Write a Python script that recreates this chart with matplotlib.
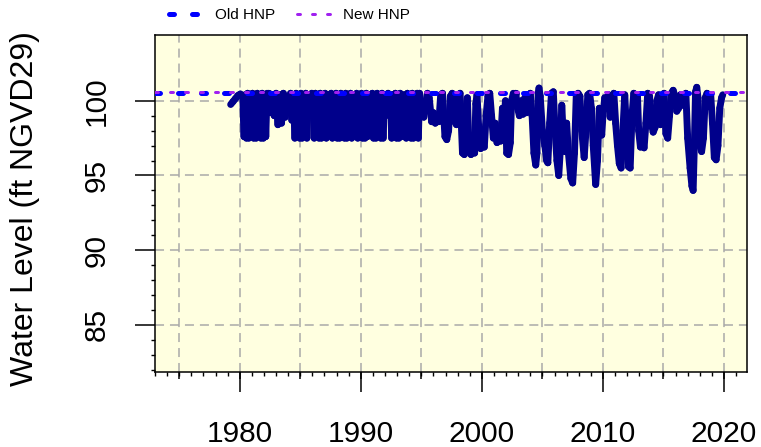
import numpy as np
import matplotlib
matplotlib.use("Agg")
import matplotlib.pyplot as plt
from matplotlib.collections import LineCollection

plt.rcParams['font.family'] = ['Liberation Sans', 'DejaVu Sans']

# stage record (decimal year, water level in ft NGVD29)
years_80s = [1979.25, 1979.45, 1979.65, 1979.85, 1980.05, 1980.25,
             1980.35, 1980.45, 1980.55, 1980.65, 1980.75, 1980.85, 1980.95, 1981.05, 1981.15, 1981.25,
             1981.35, 1981.45, 1981.55, 1981.65, 1981.75, 1981.85, 1981.95, 1982.05, 1982.15, 1982.25,
             1982.4, 1982.55, 1982.7, 1982.85, 1983.0, 1983.15, 1983.3, 1983.45, 1983.6, 1983.75,
             1983.9, 1984.05, 1984.2, 1984.3, 1984.45,
             1984.55, 1984.65, 1984.75, 1984.85, 1984.95, 1985.05, 1985.15, 1985.25, 1985.35, 1985.45,
             1985.55, 1985.65, 1985.8, 1985.95, 1986.05,
             1986.15, 1986.25, 1986.35, 1986.45, 1986.55, 1986.65, 1986.75, 1986.85, 1986.95, 1987.05,
             1987.15, 1987.25, 1987.4, 1987.55, 1987.65, 1987.75, 1987.85, 1987.95, 1988.05, 1988.15,
             1988.25, 1988.35, 1988.45, 1988.55, 1988.65, 1988.75, 1988.85, 1988.95, 1989.05, 1989.15,
             1989.25, 1989.35, 1989.5, 1989.65]
level_80s = [99.75, 99.95, 100.15, 100.35, 100.45, 100.3,
             97.6, 100.4, 97.5, 100.5, 97.5, 100.2, 97.6, 100.5, 97.5, 100.4,
             97.5, 100.5, 97.6, 100.3, 97.5, 100.5, 97.5, 100.4, 97.6, 100.5,
             100.5, 99.2, 100.3, 99.0, 100.5, 98.4, 100.4, 98.5, 100.5, 98.9,
             100.3, 99.2, 100.5, 98.7, 100.4,
             97.5, 100.5, 97.6, 100.4, 97.5, 100.5, 97.5, 100.3, 97.6, 100.5,
             97.5, 100.4, 100.0, 100.5, 99.8,
             97.5, 100.5, 97.6, 100.4, 97.5, 100.5, 97.5, 100.3, 97.6, 100.5,
             97.5, 100.4, 99.2, 100.5, 97.5, 100.4, 97.6, 100.5, 97.5, 100.3,
             97.5, 100.5, 97.6, 100.4, 97.5, 100.5, 97.5, 100.3, 97.6, 100.5,
             97.5, 100.4, 99.0, 100.5]

years_90s = [1989.75, 1989.85, 1989.95, 1990.05, 1990.15, 1990.25, 1990.35, 1990.45, 1990.55, 1990.65,
             1990.8, 1990.95, 1991.05, 1991.15, 1991.25, 1991.35, 1991.45, 1991.55, 1991.65, 1991.75,
             1991.85, 1991.95, 1992.1, 1992.25, 1992.35, 1992.45,
             1992.55, 1992.65, 1992.75, 1992.85, 1992.95, 1993.05, 1993.15, 1993.25, 1993.35, 1993.45,
             1993.55, 1993.65,
             1993.75, 1993.85, 1993.95, 1994.05, 1994.15, 1994.25, 1994.35, 1994.45, 1994.55, 1994.65,
             1994.75, 1994.85,
             1995.05, 1995.2, 1995.35, 1995.5, 1995.65, 1995.85, 1996.0, 1996.15, 1996.3, 1996.45,
             1996.6, 1996.75, 1996.95, 1997.1, 1997.25, 1997.4, 1997.55, 1997.75, 1997.9, 1998.05,
             1998.2, 1998.4, 1998.55, 1998.7, 1998.8, 1998.95, 1999.1, 1999.25, 1999.4, 1999.5,
             1999.6, 1999.75, 1999.9]
level_90s = [97.5, 100.4, 97.6, 100.5, 97.5, 100.3, 97.5, 100.5, 97.6, 100.4,
             98.8, 100.5, 97.5, 100.4, 97.5, 100.5, 97.6, 100.3, 97.5, 100.5,
             97.5, 100.4, 99.3, 100.5, 99.0, 100.4,
             97.5, 100.4, 97.6, 100.5, 97.5, 100.3, 97.5, 100.5, 97.6, 100.4,
             99.5, 100.4,
             97.5, 100.5, 97.6, 100.3, 97.5, 100.5, 97.5, 100.4, 97.6, 100.5,
             97.5, 100.5,
             99.6, 98.9, 99.5, 100.5, 100.2, 98.6, 99.2, 98.5, 99.0, 98.6,
             100.4, 100.5, 97.6, 97.4, 98.0, 100.3, 100.5, 98.6, 98.4, 100.3,
             100.5, 96.5, 96.4, 99.5, 100.2, 96.6, 96.4, 97.0, 96.5, 99.8,
             100.4, 98.0, 96.8]

years_00s = [2000.05, 2000.2, 2000.35, 2000.5, 2000.65, 2000.8, 2000.95, 2001.1, 2001.25, 2001.4,
             2001.55, 2001.7, 2001.8, 2001.95, 2002.05, 2002.2, 2002.35, 2002.45, 2002.6, 2002.8,
             2002.95, 2003.1, 2003.25, 2003.4, 2003.55, 2003.7, 2003.85, 2004.0, 2004.15, 2004.3,
             2004.45, 2004.55, 2004.65, 2004.72, 2004.82, 2005.0, 2005.2, 2005.35, 2005.45, 2005.6,
             2005.75, 2005.9, 2006.05, 2006.2, 2006.35, 2006.5, 2006.6, 2006.7, 2006.85, 2007.0,
             2007.15, 2007.35, 2007.5, 2007.65, 2007.8, 2007.95, 2008.1, 2008.25, 2008.45, 2008.6,
             2008.75, 2008.9, 2009.05, 2009.2, 2009.4, 2009.55, 2009.7, 2009.8, 2009.9]
level_00s = [97.5, 96.9, 99.0, 100.3, 100.5, 99.0, 97.5, 98.5, 97.2, 98.0,
             97.3, 99.5, 98.4, 100.0, 96.5, 96.4, 97.2, 100.0, 100.5, 100.5,
             99.5, 99.0, 100.0, 99.1, 100.2, 99.2, 100.3, 100.5, 99.0, 96.5,
             95.7, 96.5, 100.5, 100.85, 100.3, 98.0, 97.0, 96.0, 95.85, 98.5,
             100.5, 100.6, 98.0, 96.0, 95.0, 97.0, 99.7, 98.0, 96.6, 98.5,
             96.5, 94.8, 94.5, 96.5, 100.4, 100.5, 100.3, 98.0, 96.2, 98.0,
             100.4, 100.5, 99.5, 97.0, 94.4, 96.0, 99.5, 98.5, 97.7]

years_10s = [2010.0, 2010.15, 2010.3, 2010.45, 2010.6, 2010.75, 2010.9, 2011.05, 2011.2, 2011.35,
             2011.5, 2011.65, 2011.8, 2011.95, 2012.1, 2012.25, 2012.4, 2012.55, 2012.7, 2012.85,
             2012.95, 2013.1, 2013.25, 2013.4, 2013.55, 2013.7, 2013.85, 2014.0, 2014.15, 2014.3,
             2014.45, 2014.6, 2014.75, 2014.9, 2015.05, 2015.2, 2015.35, 2015.5, 2015.65, 2015.8,
             2015.95, 2016.1, 2016.25, 2016.4, 2016.55, 2016.7, 2016.85, 2017.0, 2017.2, 2017.35,
             2017.45, 2017.55, 2017.65, 2017.75, 2017.85, 2018.0, 2018.15, 2018.3, 2018.45, 2018.6,
             2018.75, 2018.9, 2019.05, 2019.2, 2019.35, 2019.5, 2019.65, 2019.8, 2019.9]
level_10s = [99.0, 100.2, 99.5, 100.4, 98.9, 100.2, 100.5, 98.5, 97.0, 95.8,
             95.5, 98.0, 100.4, 98.0, 95.6, 95.5, 99.0, 100.5, 99.3, 100.4,
             98.0, 96.9, 97.5, 96.85, 98.5, 100.5, 100.3, 98.5, 97.9, 98.2,
             100.0, 100.4, 98.4, 100.0, 100.5, 97.8, 97.5, 99.0, 100.5, 100.7,
             100.3, 99.3, 99.5, 100.4, 99.7, 100.3, 100.5, 97.5, 95.5, 94.3,
             94.0, 97.0, 100.6, 100.9, 100.2, 97.0, 96.6, 97.5, 100.2, 100.5,
             99.6, 100.4, 98.5, 96.2, 96.05, 97.0, 99.5, 100.2, 100.4]

old_hnp = 100.5
new_hnp = 100.6
legend_labels = ['Old HNP', 'New HNP']
xtick_years = [1980, 1990, 2000, 2010, 2020]
ytick_levels = [85, 90, 95, 100]


def main():
    years = np.array(years_80s + years_90s + years_00s + years_10s)
    level = np.array(level_80s + level_90s + level_00s + level_10s)

    fig = plt.figure(figsize=(7.61, 4.47), dpi=100)
    ax = fig.add_axes([155 / 761, 1 - 372 / 447, 592 / 761, 337 / 447])
    ax.set_facecolor('#FFFFE0')
    ax.set_xlim(1973.17, 2021.9)
    ax.set_ylim(81.85, 104.4)

    # dashed grey grid every 5 years / 5 ft
    for gx in range(1975, 2021, 5):
        ax.axvline(gx, color='#A9A9A9', lw=1.1, dashes=(5.9, 3.9), zorder=1)
    for gy in ytick_levels:
        ax.axhline(gy, color='#A9A9A9', lw=1.1, dashes=(5.9, 3.9), zorder=1)

    # stage trace: one stroke per step so the dense zigzags stay solid
    pts = np.column_stack([years, level])
    segs = np.stack([pts[:-1], pts[1:]], axis=1)
    trace = LineCollection(segs, colors='#00008B', linewidths=5.0,
                           capstyle='round', joinstyle='round', zorder=3)
    ax.add_collection(trace)

    h_old = ax.axhline(old_hnp, color='#0000FF', lw=3.6, dashes=(1.0, 3.6),
                       dash_capstyle='round', zorder=4, label=legend_labels[0])
    h_new = ax.axhline(new_hnp, color='#A020F0', lw=2.16, dashes=(1.0, 4.0),
                       dash_capstyle='round', zorder=5, label=legend_labels[1])

    # axis ticks
    ax.set_xticks(xtick_years)
    ax.set_xticks(np.arange(1973, 2022), minor=True)
    ax.set_yticks(ytick_levels)
    ax.set_yticks([v for v in range(82, 100) if v % 5 != 0], minor=True)
    ax.tick_params(axis='both', which='major', length=14.4, width=1.1, labelsize=21.5)
    ax.tick_params(axis='both', which='minor', length=2.6, width=1.0)
    ax.tick_params(axis='x', which='major', pad=20)
    ax.tick_params(axis='y', which='major', pad=17.5, labelrotation=90)
    for lab in ax.get_yticklabels():
        lab.set_va('center')

    # medium ticks every 5 years
    sec = ax.secondary_xaxis('bottom')
    sec.set_xticks(range(1975, 2021, 5))
    sec.set_xticklabels([])
    sec.tick_params(length=5.0, width=1.1)
    sec.spines['bottom'].set_visible(False)

    for sp in ax.spines.values():
        sp.set_linewidth(1.1)

    ax.set_ylabel('Water Level (ft NGVD29)', fontsize=23)
    ax.yaxis.set_label_coords(-0.194, 0.485)

    ax.legend(handles=[h_old, h_new], loc='center left',
              bbox_to_anchor=(169 / 761, 1 - 15 / 447), bbox_transform=fig.transFigure,
              ncol=2, frameon=False, fontsize=11, borderpad=0, borderaxespad=0,
              handlelength=2.29, handletextpad=0.72, columnspacing=1.44)

    fig.savefig('out.png', dpi=100)


if __name__ == "__main__":
    main()
